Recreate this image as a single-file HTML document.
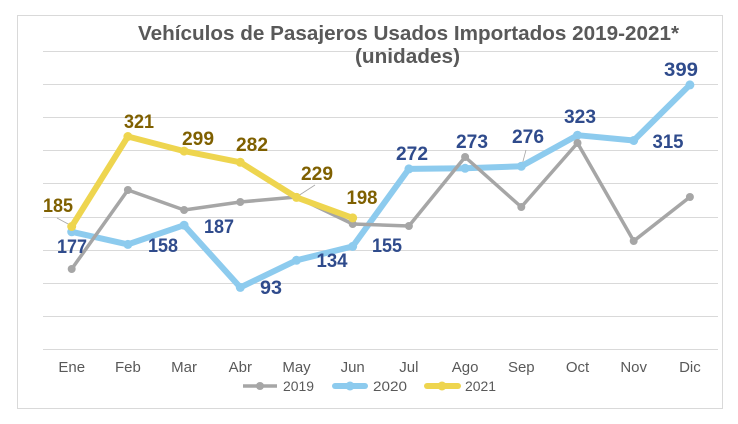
<!DOCTYPE html>
<html><head><meta charset="utf-8"><style>
html,body{margin:0;padding:0;background:#fff;}
svg{display:block;}
text{font-family:"Liberation Sans",sans-serif;}
</style></head><body>
<svg width="738" height="424" viewBox="0 0 738 424" xmlns="http://www.w3.org/2000/svg">
<rect x="0" y="0" width="738" height="424" fill="#fff"/>
<rect x="17.5" y="15.5" width="705" height="393" fill="#fff" stroke="#D9D9D9" stroke-width="1"/>
<g stroke="#D9D9D9" stroke-width="1">
<line x1="43" y1="51.5" x2="718" y2="51.5"/>
<line x1="43" y1="84.5" x2="718" y2="84.5"/>
<line x1="43" y1="117.5" x2="718" y2="117.5"/>
<line x1="43" y1="150.5" x2="718" y2="150.5"/>
<line x1="43" y1="183.5" x2="718" y2="183.5"/>
<line x1="43" y1="217.5" x2="718" y2="217.5"/>
<line x1="43" y1="250.5" x2="718" y2="250.5"/>
<line x1="43" y1="283.5" x2="718" y2="283.5"/>
<line x1="43" y1="316.5" x2="718" y2="316.5"/>
<line x1="43" y1="349.5" x2="718" y2="349.5"/>
</g>
<text x="138" y="40" font-size="20" font-weight="bold" fill="#595959" textLength="541" lengthAdjust="spacingAndGlyphs">Vehículos de Pasajeros Usados Importados 2019-2021*</text>
<text x="355" y="63" font-size="20" font-weight="bold" fill="#595959" textLength="105" lengthAdjust="spacingAndGlyphs">(unidades)</text>
<g stroke="#A6A6A6" stroke-width="0.8" fill="none">
<line x1="57" y1="218" x2="70" y2="225"/>
<line x1="315" y1="185" x2="298" y2="196"/>
<line x1="526" y1="150" x2="522" y2="165"/>
</g>
<polyline fill="none" stroke="#8DCBEE" stroke-width="6" stroke-linejoin="round" stroke-linecap="round"
points="71.7,231.8 127.9,244.4 184.1,225.2 240.3,287.4 296.5,260.3 352.7,246.4 408.9,168.9 465.1,168.3 521.3,166.3 577.5,135.2 633.7,140.5 689.9,84.9"/>
<g fill="#8DCBEE">
<circle cx="71.7" cy="231.8" r="4.5"/><circle cx="127.9" cy="244.4" r="4.5"/><circle cx="184.1" cy="225.2" r="4.5"/><circle cx="240.3" cy="287.4" r="4.5"/><circle cx="296.5" cy="260.3" r="4.5"/><circle cx="352.7" cy="246.4" r="4.5"/><circle cx="408.9" cy="168.9" r="4.5"/><circle cx="465.1" cy="168.3" r="4.5"/><circle cx="521.3" cy="166.3" r="4.5"/><circle cx="577.5" cy="135.2" r="4.5"/><circle cx="633.7" cy="140.5" r="4.5"/><circle cx="689.9" cy="84.9" r="4.5"/>
</g>
<polyline fill="none" stroke="#A6A6A6" stroke-width="3.5" stroke-linejoin="round"
points="71.7,269 127.9,190 184.1,210 240.3,202 296.5,197 352.7,224 408.9,226 465.1,157 521.3,207 577.5,143 633.7,241 689.9,197"/>
<g fill="#A6A6A6">
<circle cx="71.7" cy="269" r="4"/><circle cx="127.9" cy="190" r="4"/><circle cx="184.1" cy="210" r="4"/><circle cx="240.3" cy="202" r="4"/><circle cx="296.5" cy="197" r="4"/><circle cx="352.7" cy="224" r="4"/><circle cx="408.9" cy="226" r="4"/><circle cx="465.1" cy="157" r="4"/><circle cx="521.3" cy="207" r="4"/><circle cx="577.5" cy="143" r="4"/><circle cx="633.7" cy="241" r="4"/><circle cx="689.9" cy="197" r="4"/>
</g>
<polyline fill="none" stroke="#EED54F" stroke-width="6" stroke-linejoin="round" stroke-linecap="round"
points="71.7,226.5 127.9,136.5 184.1,151.1 240.3,162.3 296.5,197.4 352.7,217.9"/>
<g fill="#EED54F">
<circle cx="71.7" cy="226.5" r="4.5"/><circle cx="127.9" cy="136.5" r="4.5"/><circle cx="184.1" cy="151.1" r="4.5"/><circle cx="240.3" cy="162.3" r="4.5"/><circle cx="296.5" cy="197.4" r="4.5"/><circle cx="352.7" cy="217.9" r="4.5"/>
</g>
<g font-size="19.5" font-weight="bold" fill="#7F6000" text-anchor="middle">
<text x="58" y="212" textLength="30" lengthAdjust="spacingAndGlyphs">185</text>
<text x="139" y="128" textLength="30" lengthAdjust="spacingAndGlyphs">321</text>
<text x="198" y="145" textLength="32" lengthAdjust="spacingAndGlyphs">299</text>
<text x="252" y="151" textLength="32" lengthAdjust="spacingAndGlyphs">282</text>
<text x="317" y="180" textLength="32" lengthAdjust="spacingAndGlyphs">229</text>
<text x="362" y="204" textLength="31" lengthAdjust="spacingAndGlyphs">198</text>
</g>
<g font-size="19.5" font-weight="bold" fill="#2F4B8C" text-anchor="middle">
<text x="72" y="253" textLength="30" lengthAdjust="spacingAndGlyphs">177</text>
<text x="163" y="252" textLength="30" lengthAdjust="spacingAndGlyphs">158</text>
<text x="219" y="233" textLength="30" lengthAdjust="spacingAndGlyphs">187</text>
<text x="271" y="294" textLength="22" lengthAdjust="spacingAndGlyphs">93</text>
<text x="332" y="267" textLength="31" lengthAdjust="spacingAndGlyphs">134</text>
<text x="387" y="252" textLength="30" lengthAdjust="spacingAndGlyphs">155</text>
<text x="412" y="160" textLength="32" lengthAdjust="spacingAndGlyphs">272</text>
<text x="472" y="148" textLength="32" lengthAdjust="spacingAndGlyphs">273</text>
<text x="528" y="143" textLength="32" lengthAdjust="spacingAndGlyphs">276</text>
<text x="580" y="123" textLength="32" lengthAdjust="spacingAndGlyphs">323</text>
<text x="668" y="148" textLength="31" lengthAdjust="spacingAndGlyphs">315</text>
<text x="681" y="76" textLength="34" lengthAdjust="spacingAndGlyphs">399</text>
</g>
<g font-size="15" fill="#595959" text-anchor="middle">
<text x="71.7" y="372">Ene</text>
<text x="127.9" y="372">Feb</text>
<text x="184.1" y="372">Mar</text>
<text x="240.3" y="372">Abr</text>
<text x="296.5" y="372">May</text>
<text x="352.7" y="372">Jun</text>
<text x="408.9" y="372">Jul</text>
<text x="465.1" y="372">Ago</text>
<text x="521.3" y="372">Sep</text>
<text x="577.5" y="372">Oct</text>
<text x="633.7" y="372">Nov</text>
<text x="689.9" y="372">Dic</text>
</g>
<line x1="243" y1="386" x2="277" y2="386" stroke="#A6A6A6" stroke-width="3.5"/>
<circle cx="260" cy="386" r="4" fill="#A6A6A6"/>
<text x="283" y="391" font-size="14" fill="#595959" textLength="31" lengthAdjust="spacingAndGlyphs">2019</text>
<line x1="335" y1="386" x2="365" y2="386" stroke="#8DCBEE" stroke-width="6" stroke-linecap="round"/>
<circle cx="350" cy="386" r="4.5" fill="#8DCBEE"/>
<text x="373" y="391" font-size="14" fill="#595959" textLength="34" lengthAdjust="spacingAndGlyphs">2020</text>
<line x1="427" y1="386" x2="458" y2="386" stroke="#EED54F" stroke-width="6" stroke-linecap="round"/>
<circle cx="442" cy="386" r="4.5" fill="#EED54F"/>
<text x="465" y="391" font-size="14" fill="#595959" textLength="31" lengthAdjust="spacingAndGlyphs">2021</text>
</svg>
</body></html>
